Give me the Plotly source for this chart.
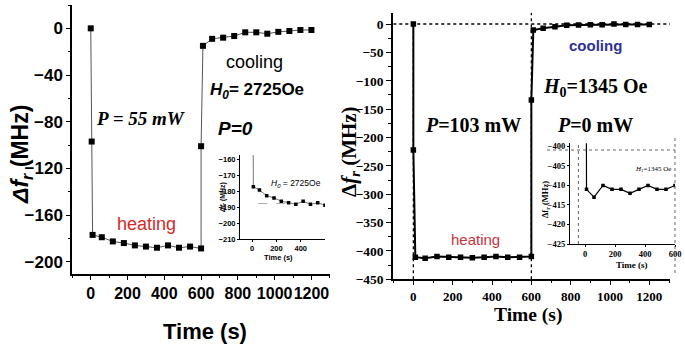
import plotly.graph_objects as go

# ---------------- data ----------------
# Left panel: P = 55 mW, H0 = 2725 Oe
time_55 = [0, 5, 10, 60, 120, 180, 240, 300, 360, 420, 480, 540, 600,
           600, 610, 660, 720, 780, 840, 900, 960, 1020, 1080, 1140, 1200]
df_55 = [0, -97, -177, -179, -182.6, -184, -186, -187, -188, -186, -188, -187, -188.6,
         -101, -15, -9, -8, -6.6, -3.4, -3.4, -4.6, -3, -2.3, -1.4, -1.4]

# Right panel: P = 103 mW, H0 = 1345 Oe
time_103 = [0, 0, 10, 60, 120, 180, 240, 300, 360, 420, 480, 540, 600,
            600, 610, 660, 720, 780, 840, 900, 960, 1020, 1080, 1140, 1200]
df_103 = [0, -222, -411, -413, -410, -411, -411, -412, -411, -410, -411, -411, -410,
          -134, -10.6, -7.6, -4.7, -2.3, -1.8, -1.2, -1.2, 0, -0.6, -0.6, -0.6]

guide_x_103 = [0, 600]   # dotted guide lines (right panel)
guide_y_103 = [0]

W, H = 685, 346
def px(x):
    return x / W
def py(y):
    return (H - y) / H

SANS = "Liberation Sans"
SERIF = "Liberation Serif"

fig = go.Figure()

# Left main
fig.add_trace(go.Scatter(x=time_55, y=df_55, mode="lines+markers", xaxis="x", yaxis="y",
                         line=dict(color="#555555", width=1),
                         marker=dict(symbol="square", size=6, color="black"),
                         showlegend=False))
# Left inset (heating part)
fig.add_trace(go.Scatter(x=time_55[:13], y=df_55[:13], mode="lines+markers", xaxis="x2", yaxis="y2",
                         line=dict(color="#555555", width=0.8),
                         marker=dict(symbol="square", size=3.5, color="black"),
                         showlegend=False))
# Right main
fig.add_trace(go.Scatter(x=time_103, y=df_103, mode="lines+markers", xaxis="x3", yaxis="y3",
                         line=dict(color="black", width=2),
                         marker=dict(symbol="square", size=5.5, color="black"),
                         showlegend=False))
# Right inset
fig.add_trace(go.Scatter(x=time_103[:13], y=df_103[:13], mode="lines+markers", xaxis="x4", yaxis="y4",
                         line=dict(color="black", width=1.2),
                         marker=dict(symbol="square", size=3.5, color="black"),
                         showlegend=False))

def axis(domain, rng, font, size, dtick=None, tickvals=None, minor=None, lw=1.5, ticklen=4, anchor=None):
    d = dict(domain=domain, range=rng, showgrid=False, zeroline=False,
             showline=True, linecolor="black", linewidth=lw,
             ticks="outside", ticklen=ticklen, tickwidth=1, tickcolor="black",
             tickangle=0,
             tickfont=dict(family=font, size=size, color="black", weight="bold"),
             anchor=anchor)
    if dtick is not None:
        d["dtick"] = dtick
        d["tick0"] = 0
    if tickvals is not None:
        d["tickmode"] = "array"
        d["tickvals"] = tickvals
    if minor is not None:
        d["minor"] = dict(dtick=minor, tick0=0, ticks="outside", ticklen=max(2, ticklen - 2), tickcolor="black", showgrid=False)
    return d

layout = dict(
    width=W, height=H, margin=dict(l=0, r=0, t=0, b=0, autoexpand=False),
    paper_bgcolor="white", plot_bgcolor="rgba(0,0,0,0)",
    xaxis=axis([px(72), px(330)], [-102, 1301], SANS, 16, dtick=200, minor=100, anchor="y"),
    yaxis=axis([py(274), py(5)], [-210.5, 20], SANS, 17, dtick=40, minor=20, anchor="x"),
    xaxis2=axis([px(240), px(325)], [-100, 600], SANS, 7.5, tickvals=[0, 200, 400], lw=1, ticklen=2, anchor="y2"),
    yaxis2=axis([py(239.3), py(155)], [-210, -157], SANS, 7.5, dtick=10, lw=1, ticklen=2, anchor="x2"),
    xaxis3=axis([px(393.3), px(670)], [-102, 1305], SERIF, 13, dtick=200, minor=100, lw=2, ticklen=4, anchor="y3"),
    yaxis3=axis([py(279.3), py(12.7)], [-450, 20], SERIF, 13.5, dtick=50, minor=25, lw=2, ticklen=5, anchor="x3"),
    xaxis4=axis([px(570), px(675)], [-100, 600], SERIF, 8.5, tickvals=[0, 200, 400, 600], lw=1.2, ticklen=2, anchor="y4"),
    yaxis4=axis([py(244), py(143.3)], [-425, -399.2], SERIF, 8.5, dtick=5, lw=1.2, ticklen=2, anchor="x4"),
)
fig.update_layout(**layout)

shapes = []
# right panel dotted guides
for gy in guide_y_103:
    shapes.append(dict(type="line", xref="x3", yref="y3", x0=-102, x1=1350, y0=gy, y1=gy,
                       line=dict(color="black", width=1.5, dash="dot"), layer="below"))
shapes.append(dict(type="line", xref="x3", yref="y3", x0=guide_x_103[0], x1=guide_x_103[0], y0=-450, y1=0,
                   line=dict(color="black", width=1.3, dash="dot"), layer="below"))
shapes.append(dict(type="line", xref="x3", yref="y3", x0=guide_x_103[1], x1=guide_x_103[1], y0=-450, y1=20,
                   line=dict(color="black", width=1.3, dash="dot"), layer="below"))
# right inset frame dotted lines
shapes.append(dict(type="line", xref="paper", yref="paper", x0=px(547), x1=px(675), y0=py(150), y1=py(150),
                   line=dict(color="#666666", width=1, dash="dot")))
shapes.append(dict(type="line", xref="paper", yref="paper", x0=px(675), x1=px(675), y0=py(138), y1=py(273),
                   line=dict(color="#666666", width=1, dash="dot")))
shapes.append(dict(type="line", xref="x4", yref="y4", x0=-44, x1=-44, y0=-425, y1=-399.2,
                   line=dict(color="#666666", width=1, dash="dot")))
# left inset faint dashes
shapes.append(dict(type="line", xref="x2", yref="y2", x0=50, x1=300, y0=-187.5, y1=-187.5,
                   line=dict(color="#999999", width=0.8, dash="dash")))
fig.update_layout(shapes=shapes)

ann = []
def add(text, x, y, xref="paper", yref="paper", size=12, family=SANS, color="black", angle=0):
    ann.append(dict(text=text, x=x, y=y, xref=xref, yref=yref, showarrow=False,
                    xanchor="center", yanchor="middle", textangle=angle,
                    font=dict(family=family, size=size, color=color)))

# left main texts
add("<b><i>P = 55 mW</i></b>", 268, -77, "x", "y", 19, SERIF)
add("cooling", 893, -29, "x", "y", 18, SANS)
add("<b><i>H</i><sub><i>0</i></sub>= 2725Oe</b>", 904, -54, "x", "y", 17, SANS)
add("<b><i>P=0</i></b>", 785, -85.5, "x", "y", 19, SANS)
add("heating", 301, -168, "x", "y", 18, SANS, "#d42a2a")
add("<b>Time (s)</b>", px(205), py(331), size=22, family=SANS)
add("<b><i>Δf</i><sub><i>r</i></sub> (MHz)</b>", px(21), py(155), size=23, family=SANS, angle=-90)
# left inset texts
add("<i>H</i><sub><i>0</i></sub> = 2725Oe", 362, -174.7, "x2", "y2", 8.5, SANS)
add("<b>Time (s)</b>", px(278), py(257), size=7.5, family=SANS)
add("<b><i>Δf</i><sub><i>r</i></sub> (MHz)</b>", px(223), py(198), size=7, family=SANS, angle=-90)

# right main texts
add("<b>cooling</b>", 924, -37, "x3", "y3", 15, SANS, "#2e3192")
add("<b><i>H</i><sub>0</sub>=1345 Oe</b>", 924, -111, "x3", "y3", 20, SERIF)
add("<b><i>P</i>=103 mW</b>", 303, -178, "x3", "y3", 20, SERIF)
add("<b><i>P</i>=0 mW</b>", 924, -178, "x3", "y3", 20, SERIF)
add("heating", 318, -379, "x3", "y3", 15, SANS, "#c8323c")
add("<b>Time (s)</b>", px(528), py(315), size=19.5, family=SERIF)
add("<b>Δ<i>f</i><sub><i>r</i></sub> (MHz)</b>", px(350), py(152), size=21, family=SERIF, angle=-90)
# right inset texts
add("<i>H</i><sub>1</sub>=1345 Oe", 453, -405.9, "x4", "y4", 7, SERIF)
add("<b>Time (s)</b>", px(632), py(264.5), size=9, family=SERIF)
add("<b>Δf<sub>r</sub> (MHz)</b>", px(546), py(200), size=8.5, family=SERIF, angle=-90)

fig.update_layout(annotations=ann)

fig.write_html("out.html", config={"displayModeBar": False},
               post_script="document.body.style.margin='0';document.body.style.padding='0';")
